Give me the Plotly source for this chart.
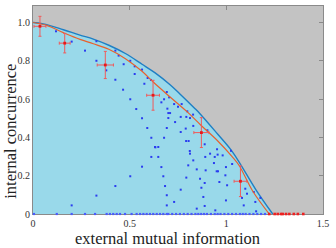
import plotly.graph_objects as go

# boundary curve (blue)
bound_I = [0, 0.053, 0.157, 0.243, 0.312, 0.392, 0.478, 0.564, 0.63, 0.709, 0.76, 0.833, 0.867, 0.957, 1.024, 1.067, 1.154, 1.24]
bound_C = [1.0, 0.993, 0.962, 0.934, 0.913, 0.881, 0.838, 0.782, 0.738, 0.675, 0.627, 0.555, 0.52, 0.415, 0.335, 0.27, 0.125, 0.0]

# fitted curve (orange)
fit_I = [0, 0.071, 0.157, 0.243, 0.312, 0.392, 0.478, 0.564, 0.626, 0.709, 0.798, 0.87, 0.957, 1.03, 1.067, 1.136, 1.222]
fit_C = [1.0, 0.985, 0.947, 0.912, 0.889, 0.86, 0.811, 0.745, 0.685, 0.611, 0.533, 0.462, 0.38, 0.30, 0.252, 0.12, 0.0]

# sampled states (blue dots)
dots_I = [0.119, 0.2, 0.269, 0.328, 0.426, 0.443, 0.328, 0.469, 0.503, 0.526, 0.564, 0.379, 0.526, 0.593,
          0.426, 0.576, 0.466, 0.503, 0.534, 0.61, 0.692, 0.704, 0.664, 0.678, 0.73, 0.75, 0.769, 0.695,
          0.709, 0.798, 0.2, 0.564, 0.591, 0.612, 0.633, 0.612, 0.564, 0.503, 0.426, 0.328,
          0.7, 0.7, 0.764, 0.793, 0.828, 0.812, 0.735, 0.829, 0.692, 0.79, 0.764, 0.902, 0.678, 0.792,
          0.805, 0.631, 0.648, 0.811, 0.812, 0.888, 0.916, 0.94, 0.891, 0.648, 0.829, 0.803, 0.936,
          0.664, 0.847, 0.893, 0.95, 0.674, 0.793, 0.864, 0.888, 0.683, 0.764, 0.871, 0.881, 0.692,
          0.73, 0.692, 0.847, 0.888, 0.943, 0.952, 0.955, 0.981, 1.03, 0.957, 0.998, 0.995, 0.964,
          1.004, 1.098, 1.107, 1.142, 0.998, 1.081, 1.15, 1.176, 1.09, 1.154, 1.024]
dots_C = [0.954, 0.90, 0.853, 0.902, 0.853, 0.827, 0.80, 0.782, 0.80, 0.771, 0.754, 0.75, 0.731, 0.71,
          0.701, 0.68, 0.649, 0.599, 0.548, 0.70, 0.637, 0.609, 0.583, 0.599, 0.574, 0.56, 0.574, 0.55,
          0.527, 0.536, 0.045, 0.50, 0.449, 0.398, 0.348, 0.298, 0.247, 0.197, 0.146, 0.096,
          0.527, 0.501, 0.507, 0.507, 0.519, 0.501, 0.48, 0.46, 0.449, 0.446, 0.428, 0.437, 0.398, 0.381,
          0.381, 0.35, 0.35, 0.329, 0.315, 0.364, 0.315, 0.298, 0.298, 0.298, 0.28, 0.254, 0.266,
          0.245, 0.233, 0.228, 0.223, 0.197, 0.19, 0.184, 0.162, 0.146, 0.127, 0.137, 0.089, 0.098,
          0.063, 0.045, 0.028, 0.042, 0.019, 0.338, 0.31, 0.306, 0.261, 0.223, 0.245, 0.202, 0.167,
          0.15, 0.132, 0.106, 0.115, 0.071, 0.084, 0.063, 0.084, 0.045, 0.014, 0.33]

# separable states on the axis (blue dots at zero)
axis_I = [0.005, 0.123, 0.2, 0.269, 0.321, 0.381, 0.398, 0.415, 0.433, 0.45, 0.476, 0.51, 0.536, 0.554,
          0.571, 0.588, 0.605, 0.622, 0.64, 0.657, 0.674, 0.692, 0.70, 0.72, 0.74, 0.76, 0.78, 0.80,
          0.82, 0.84, 0.855, 0.87, 0.885, 0.90, 0.92, 0.94, 0.955, 0.97, 0.99, 1.01, 1.03, 1.05, 1.07,
          1.085, 1.10, 1.12, 1.14, 1.16, 1.18, 1.20]
axis_C = [0.0] * len(axis_I)

# red points on the axis
red_I = [1.222, 1.25, 1.266, 1.283, 1.292, 1.309, 1.326, 1.349, 1.37, 1.398]
red_C = [0.0] * len(red_I)

# experimental points with error bars
exp_I = [0.036, 0.164, 0.374, 0.621, 0.871, 1.073]
exp_C = [0.98, 0.892, 0.778, 0.62, 0.425, 0.171]
exp_eI = [0.031, 0.028, 0.042, 0.033, 0.039, 0.033]
exp_eC = [0.052, 0.051, 0.071, 0.078, 0.078, 0.08]

x_ticks = [0, 0.5, 1, 1.5]
x_ticktext = ["0", "0.5", "1", "1.5"]
y_ticks = [0, 0.2, 0.4, 0.6, 0.8, 1.0]
y_ticktext = ["0", "0.2", "0.4", "0.6", "0.8", "1.0"]

x_title = "external mutual information"
y_title = "internal concurrence"

fig = go.Figure()
fig.add_trace(go.Scatter(x=bound_I, y=bound_C, mode="lines", fill="tozeroy",
                         fillcolor="#99d9ea", line=dict(color="#1f7fc4", width=1.4, shape="spline"),
                         hoverinfo="skip"))
fig.add_trace(go.Scatter(x=dots_I, y=dots_C, mode="markers",
                         marker=dict(symbol="square", size=2, color="#2a3cf0", line=dict(width=0))))
fig.add_trace(go.Scatter(x=axis_I, y=axis_C, mode="markers",
                         marker=dict(symbol="square", size=2.2, color="#4a5cff", line=dict(width=0)),
                         cliponaxis=False))
fig.add_trace(go.Scatter(x=fit_I, y=fit_C, mode="lines",
                         line=dict(color="#e8602c", width=1.2, shape="spline")))
fig.add_trace(go.Scatter(x=red_I, y=red_C, mode="markers",
                         marker=dict(symbol="square", size=2.6, color="#ee2020", line=dict(width=0)),
                         cliponaxis=False))
fig.add_trace(go.Scatter(x=exp_I, y=exp_C, mode="markers",
                         marker=dict(symbol="square", size=2.8, color="#e81818", line=dict(width=0)),
                         error_x=dict(type="data", array=exp_eI, color="#f05a5a", thickness=1, width=1.5),
                         error_y=dict(type="data", array=exp_eC, color="#f05a5a", thickness=1, width=1.5)))

axis_common = dict(showgrid=False, zeroline=False, showline=True, linecolor="#8a8a8a", linewidth=1.2,
                   mirror="ticks", ticks="inside", ticklen=4, tickcolor="#8a8a8a", tickwidth=1,
                   layer="below traces", automargin=False,
                   tickfont=dict(family="Liberation Serif", size=10, color="#333333"))

fig.update_xaxes(range=[0, 1.5], tickvals=x_ticks, ticktext=x_ticktext, **axis_common)
fig.update_yaxes(range=[0, 1.086], tickvals=y_ticks, ticktext=y_ticktext, **axis_common)

fig.add_annotation(text=x_title, xref="paper", yref="paper", x=0.465, y=0, yshift=-13,
                   xanchor="center", yanchor="top", showarrow=False,
                   font=dict(family="Liberation Serif", size=16.5, color="#222222"))
fig.add_annotation(text=y_title, xref="paper", yref="paper", x=0, y=0.47, xshift=-11, yshift=-15,
                   xanchor="right", yanchor="middle", textangle=-90, showarrow=False,
                   font=dict(family="Liberation Serif", size=16.5, color="#222222"))

fig.update_layout(width=336, height=248, margin=dict(l=33, r=13, t=6, b=34),
                  plot_bgcolor="#c3c3c3", paper_bgcolor="white", showlegend=False)

fig.write_html("out.html", config={"displayModeBar": False},
               post_script="document.body.style.margin='0';")
